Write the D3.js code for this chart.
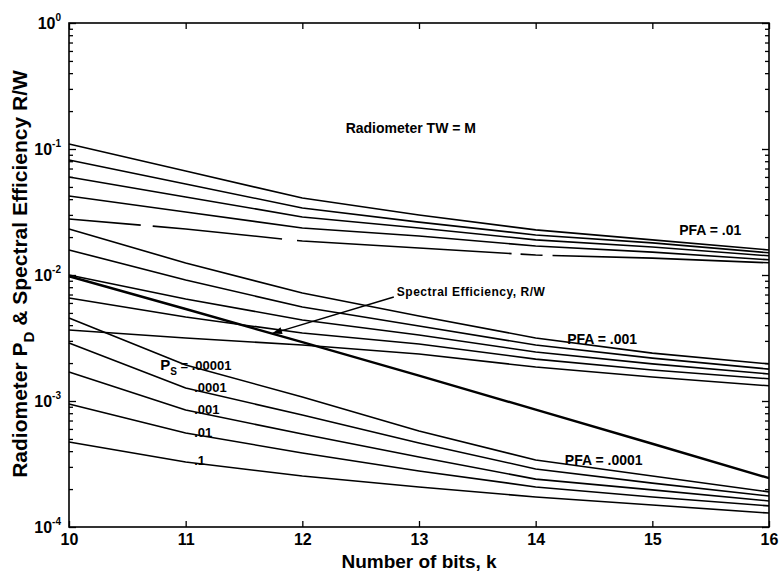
<!DOCTYPE html>
<html>
<head>
<meta charset="utf-8">
<script src="https://cdn.jsdelivr.net/npm/d3@7"></script>
<style>
  body { margin: 0; background: #fff; }
  svg text { font-family: "Liberation Sans", Arial, sans-serif; fill: #000; }
</style>
</head>
<body>
<svg id="chart" width="779" height="573"></svg>
<script>
// Number of bits per symbol
const bits = [10, 11, 12, 13, 14, 15, 16];
const xTickValues = [10, 11, 12, 13, 14, 15, 16];
const yDecadeExponents = [0, -1, -2, -3, -4];
const psNames = [".00001", ".0001", ".001", ".01", ".1"];
const pfaNames = ["PFA = .01", "PFA = .001", "PFA = .0001"];

// Radiometer PD, PFA = .01 (rows: Ps = .00001, .0001, .001, .01, .1)
const pdPfa01 = [
  [0.1096, 0.0669, 0.0408, 0.0299, 0.0228, 0.0190, 0.0158],
  [0.0818, 0.0528, 0.0340, 0.0263, 0.0208, 0.0180, 0.0150],
  [0.0600, 0.0416, 0.0289, 0.0236, 0.0190, 0.0167, 0.0142],
  [0.0424, 0.0316, 0.0236, 0.0204, 0.0170, 0.0152, 0.0132],
  [0.0278, 0.0232, 0.0186, 0.0164, 0.0144, 0.0136, 0.0125]
];

// Radiometer PD, PFA = .001
const pdPfa001 = [
  [0.0232, 0.01245, 0.00720, 0.00473, 0.00316, 0.00240, 0.00197],
  [0.0158, 0.00913, 0.00557, 0.00394, 0.00278, 0.00219, 0.00179],
  [0.0100, 0.00645, 0.00440, 0.00334, 0.00245, 0.00197, 0.00164],
  [0.00657, 0.00464, 0.00346, 0.00283, 0.00215, 0.00176, 0.00150],
  [0.00366, 0.00316, 0.00278, 0.00236, 0.00186, 0.00155, 0.00132]
];

// Radiometer PD, PFA = .0001
const pdPfa0001 = [
  [0.00456, 0.00193, 0.001076, 0.000578, 0.000340, 0.000254, 0.000190],
  [0.00289, 0.001268, 0.000774, 0.000464, 0.000289, 0.000223, 0.000176],
  [0.00170, 0.000848, 0.000547, 0.000359, 0.000240, 0.000197, 0.000161],
  [0.000947, 0.000557, 0.000387, 0.000278, 0.000208, 0.000173, 0.000147],
  [0.000473, 0.000328, 0.000254, 0.000208, 0.000173, 0.0001495, 0.000129]
];

// Spectral efficiency R/W
const spectralEff = [0.00977, 0.00537, 0.00293, 0.00159, 0.000854, 0.000458, 0.000244];

// Annotation anchors in data units [k, value]
const pfaLabelAt = [[15.23, 0.0208], [14.27, 0.00283], [14.25, 0.000310]];
const titleLabelAt = [12.93, 0.134];
const spectralLabelAt = [12.81, 0.00681];
const arrowTipK = 11.74;
const psLabelK = 11.09;

const svg = d3.select("#chart");
const W = 779, H = 573;
const m = { left: 69, right: 10, top: 23, bottom: 46 };
const x0 = m.left, x1 = W - m.right, y0 = m.top, y1 = H - m.bottom;

const x = d3.scaleLinear().domain([10, 16]).range([x0, x1]);
const y = d3.scaleLog().domain([1e-4, 1]).range([y1, y0]);

// minor tick positions 2..9 within each decade
const minorTicks = [];
for (let e = -4; e < 0; e++) for (let d = 2; d <= 9; d++) minorTicks.push(d * Math.pow(10, e));
const majorTicks = yDecadeExponents.map(e => Math.pow(10, e));

const line = d3.line().x((d, i) => x(bits[i])).y(d => y(d));

// log-linear interpolation along a curve at fractional k
function valueAt(row, k) {
  const i = Math.min(Math.floor(k - bits[0]), bits.length - 2);
  const f = k - bits[i];
  return Math.exp(Math.log(row[i]) * (1 - f) + Math.log(row[i + 1]) * f);
}

const plot = svg.append("g");

function drawGroup(rows, dashLast) {
  rows.forEach((r, j) => {
    const p = plot.append("path")
      .attr("d", line(r))
      .attr("fill", "none")
      .attr("stroke", "#000")
      .attr("stroke-width", 1.6)
      .attr("stroke-linejoin", "round");
    if (dashLast && j === rows.length - 1) p.attr("stroke-dasharray", "72,12,130,15,215,9,22,10,400");
  });
}
drawGroup(pdPfa01, true);
drawGroup(pdPfa001, false);
drawGroup(pdPfa0001, false);

plot.append("path")
  .attr("d", line(spectralEff))
  .attr("fill", "none")
  .attr("stroke", "#000")
  .attr("stroke-width", 2.4);

// frame
svg.append("rect")
  .attr("x", x0).attr("y", y0)
  .attr("width", x1 - x0).attr("height", y1 - y0)
  .attr("fill", "none").attr("stroke", "#000").attr("stroke-width", 1.6);

// x axes (ticks pointing inward)
const xb = svg.append("g").attr("transform", `translate(0,${y1})`)
  .call(d3.axisBottom(x).tickValues(xTickValues).tickSize(-6).tickPadding(7).tickFormat(d3.format("d")));
const xt = svg.append("g").attr("transform", `translate(0,${y0})`)
  .call(d3.axisTop(x).tickValues(xTickValues).tickSize(-6).tickFormat(""));
[xb, xt].forEach(g => {
  g.select(".domain").remove();
  g.selectAll("line").attr("stroke", "#000").attr("stroke-width", 1.3);
});
xb.selectAll("text").attr("font-size", 16).attr("font-weight", "bold")
  .attr("font-family", "Liberation Sans, Arial, sans-serif");

// y axes: major and minor ticks, inward on both sides
function yTicks(axisFn, xpos, vals, size) {
  const g = svg.append("g").attr("transform", `translate(${xpos},0)`)
    .call(axisFn(y).tickValues(vals).tickSize(size).tickFormat(""));
  g.select(".domain").remove();
  g.selectAll("line").attr("stroke", "#000").attr("stroke-width", 1.3);
}
yTicks(d3.axisLeft, x0, majorTicks, -7);
yTicks(d3.axisLeft, x0, minorTicks, -4);
yTicks(d3.axisRight, x1, majorTicks, -7);
yTicks(d3.axisRight, x1, minorTicks, -4);

// y tick labels 10^n
yDecadeExponents.forEach(e => {
  const t = svg.append("text")
    .attr("x", x0 - 8).attr("y", y(Math.pow(10, e)) + 6)
    .attr("text-anchor", "end")
    .attr("font-size", 16).attr("font-weight", "bold");
  t.append("tspan").text("10");
  t.append("tspan").attr("dy", -8).attr("font-size", 10).text(String(e));
});

// axis titles
svg.append("text")
  .attr("x", (x0 + x1) / 2).attr("y", 568)
  .attr("text-anchor", "middle")
  .attr("font-size", 19).attr("font-weight", "bold")
  .text("Number of bits, k");

const yt = svg.append("text")
  .attr("transform", `translate(27,274) rotate(-90)`)
  .attr("text-anchor", "middle")
  .attr("font-size", 21).attr("font-weight", "bold");
yt.append("tspan").text("Radiometer P");
yt.append("tspan").attr("dy", 7).attr("font-size", 15).text("D");
yt.append("tspan").attr("dy", -7).text(" & Spectral Efficiency R/W");

// annotations
svg.append("text")
  .attr("x", x(titleLabelAt[0])).attr("y", y(titleLabelAt[1]))
  .attr("text-anchor", "middle")
  .attr("font-size", 14).attr("font-weight", "bold")
  .text("Radiometer TW = M");

pfaNames.forEach((name, i) => {
  svg.append("text")
    .attr("x", x(pfaLabelAt[i][0])).attr("y", y(pfaLabelAt[i][1]))
    .attr("font-size", 14).attr("font-weight", "bold")
    .text(name);
});

// Ps labels placed on the PFA = .0001 curves
psNames.forEach((name, j) => {
  const v = valueAt(pdPfa0001[j], psLabelK);
  const t = svg.append("text")
    .attr("x", x(psLabelK) - 2).attr("y", y(v) + 2)
    .attr("font-size", 13).attr("font-weight", "bold");
  if (j === 0) {
    t.attr("x", x(psLabelK) - 36);
    t.append("tspan").attr("font-size", 15).text("P");
    t.append("tspan").attr("dy", 5).attr("font-size", 10).text("S");
    t.append("tspan").attr("dy", -5).text(" = " + name);
  } else {
    t.text(name);
  }
});

// spectral efficiency label with arrow to its curve
const tip = [x(arrowTipK), y(valueAt(spectralEff, arrowTipK))];
const tail = [x(spectralLabelAt[0]) - 3, y(spectralLabelAt[1]) + 1];
svg.append("text")
  .attr("x", x(spectralLabelAt[0])).attr("y", y(spectralLabelAt[1]))
  .attr("font-size", 12).attr("font-weight", "bold")
  .attr("letter-spacing", 0.5)
  .text("Spectral Efficiency, R/W");
svg.append("line")
  .attr("x1", tail[0]).attr("y1", tail[1])
  .attr("x2", tip[0]).attr("y2", tip[1])
  .attr("stroke", "#000").attr("stroke-width", 1.4);
const ang = Math.atan2(tip[1] - tail[1], tip[0] - tail[0]);
const ah = 10, aw = 3.5;
const bx = tip[0] - ah * Math.cos(ang), by = tip[1] - ah * Math.sin(ang);
svg.append("path")
  .attr("d", `M${tip[0]},${tip[1]}L${bx - aw * Math.sin(ang)},${by + aw * Math.cos(ang)}L${bx + aw * Math.sin(ang)},${by - aw * Math.cos(ang)}Z`)
  .attr("fill", "#000");
</script>
</body>
</html>
